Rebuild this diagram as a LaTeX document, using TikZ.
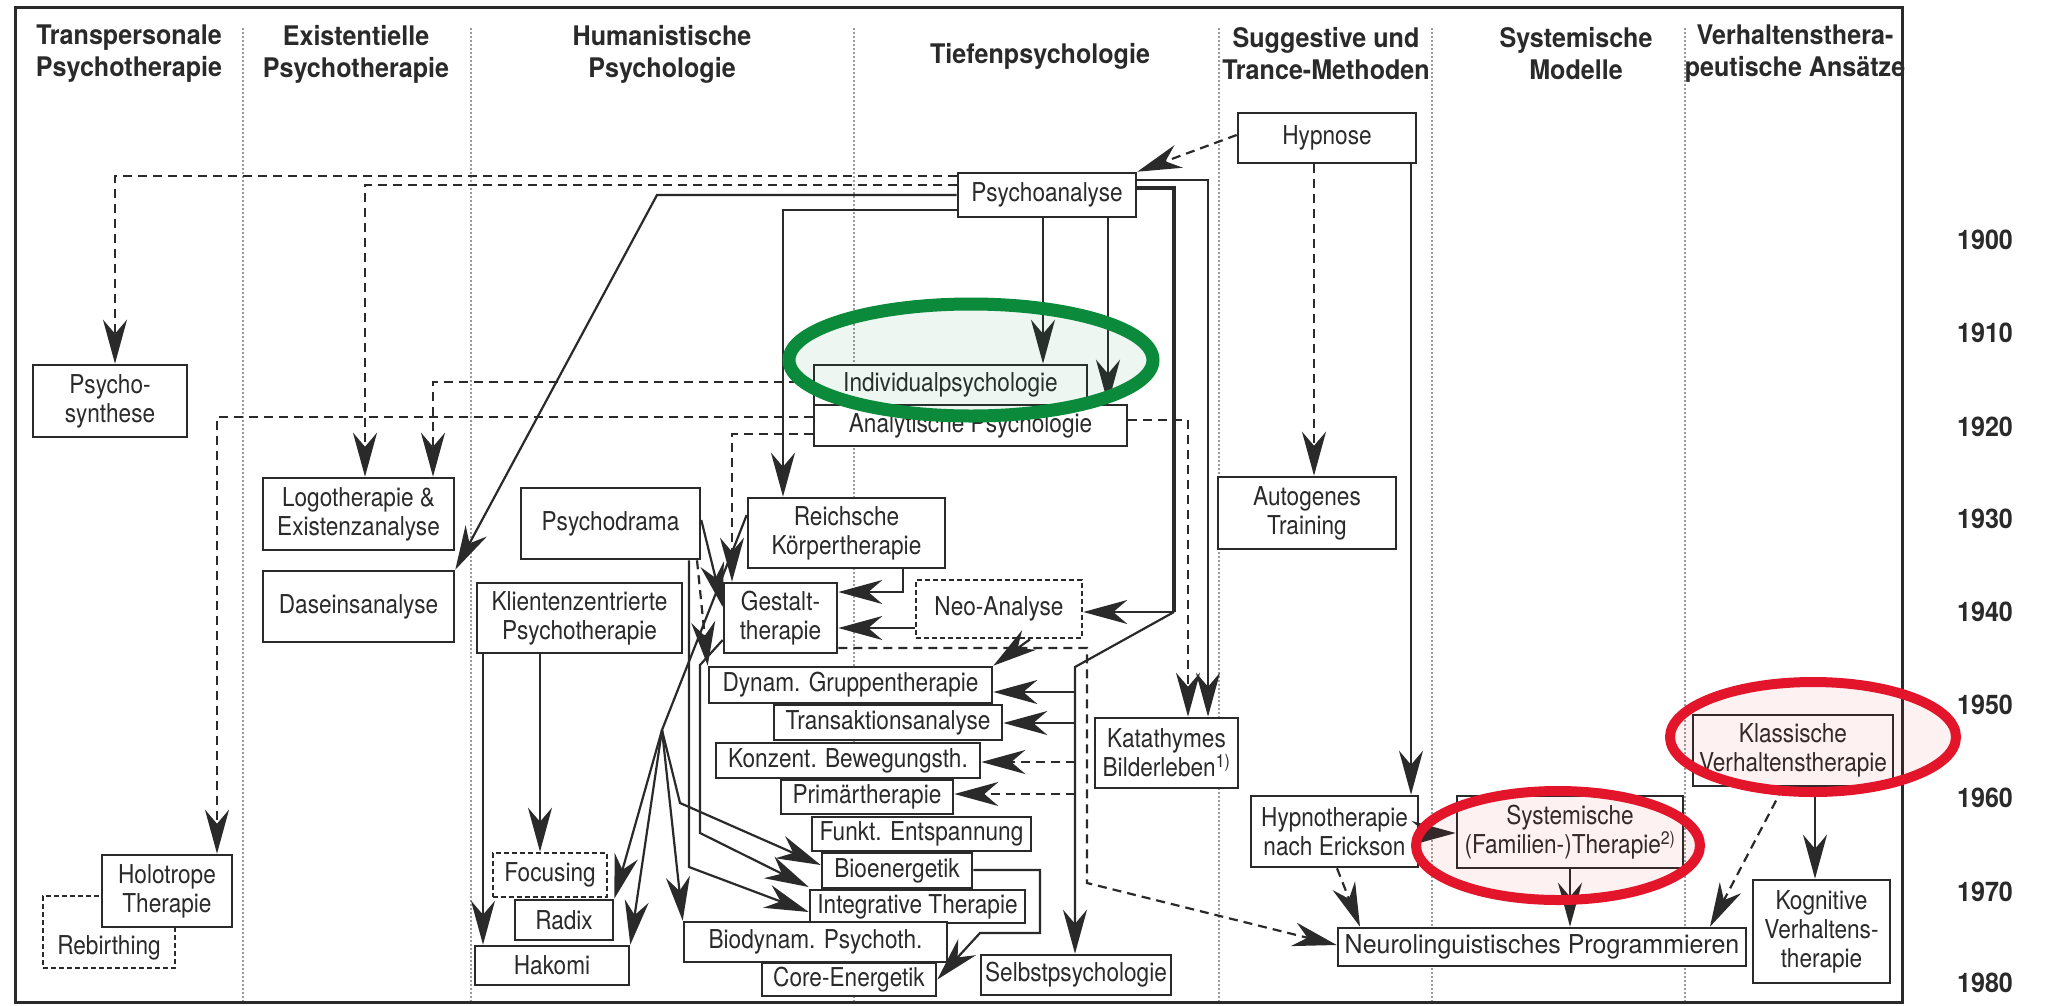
\documentclass[tikz,border=0pt]{standalone}
\usepackage{fontspec}
\setmainfont{TeX Gyre Heros}[FakeStretch=0.87]
\newfontfamily\hdrfont{TeX Gyre Heros}[FakeStretch=0.93]
\newfontfamily\widefont{TeX Gyre Heros}[FakeStretch=0.96]
\usetikzlibrary{arrows.meta,calc}
\definecolor{ink}{HTML}{2A2A2A}
\definecolor{sepc}{HTML}{9A9A9A}
\definecolor{grn}{HTML}{0A8A3A}
\definecolor{redc}{HTML}{E3152B}
\begin{document}
\begin{tikzpicture}[x=1pt,y=-1pt,
  box/.style={draw=ink, line width=2.6pt, fill=white, inner sep=0pt, align=center, text=ink, font=\fontsize{26}{29}\selectfont},
  dbox/.style={box, dash pattern=on 5pt off 3pt},
  wh/.style 2 args={minimum width=#1pt, minimum height=#2pt},
  hdr/.style={align=center, text=ink, inner sep=0pt, font=\hdrfont\bfseries\fontsize{27}{32}\selectfont},
  yr/.style={text=ink, inner sep=0pt, font=\hdrfont\bfseries\fontsize{27}{30}\selectfont},
  con/.style={draw=ink, line width=2.2pt},
  arr/.style={con, -{Stealth[length=44pt,width=24pt,inset=14pt]}},
  dsh/.style={dash pattern=on 9pt off 6pt},
  sep/.style={draw=sepc, line width=1.6pt, dash pattern=on 1.5pt off 2.5pt},
]
\useasboundingbox (0,0) rectangle (2046,1005);
\fill[white] (0,0) rectangle (2046,1005);
% column separators and frame
\foreach \x in {243,471,854,1219,1432,1685} \draw[sep] (\x,28) -- (\x,1002);
\draw[ink, line width=3pt] (15,7) rectangle (1902,1002);
% headers
\node[hdr] (h1) at (129,54) {Transpersonale\\Psychotherapie};
\node[hdr] (h2) at (356,54) {Existentielle\\Psychotherapie};
\node[hdr] (h3) at (662,54) {Humanistische\\Psychologie};
\node[hdr] (h4) at (1040,56) {Tiefenpsychologie};
\node[hdr] (h5) at (1326,54) {Suggestive und\\Trance-Methoden};
\node[hdr] (h6) at (1576,54) {Systemische\\Modelle};
\node[hdr] (h7) at (1795,54) {Verhaltensthera-\\peutische Ansätze};
% years
\foreach \y/\t in {240/1900,333/1910,427/1920,519/1930,612/1940,705/1950,798/1960,892/1970,983/1980}
  \node[yr] (y\t) at (1985,\y) {\t};
% boxes
\node[box,wh={178}{50}] (hyp) at (1327,138) {Hypnose};
\node[box,wh={178}{44}] (psa) at (1047,195) {Psychoanalyse};
\node[box,wh={313}{41}] (ana) at (970.5,425.5) {Analytische Psychologie};
\node[box,wh={273}{40}] (ind) at (950.5,385) {Individualpsychologie};
\node[box,wh={178}{72}] (aut) at (1307,513) {Autogenes\\Training};
\node[box,wh={154}{72}] (psy) at (110,401) {Psycho-\\synthese};
\node[box,wh={191}{72}] (log) at (358.5,514) {Logotherapie \&\\Existenzanalyse};
\node[box,wh={191}{71}] (das) at (358.5,606.5) {Daseinsanalyse};
\node[box,wh={179}{71}] (pdr) at (610.5,523.5) {Psychodrama};
\node[box,wh={197}{70}] (rei) at (846.5,533) {Reichsche\\Körpertherapie};
\node[box,wh={113}{70}] (ges) at (780.5,618) {Gestalt-\\therapie};
\node[box,wh={205}{70}] (kli) at (579.5,618) {Klientenzentrierte\\Psychotherapie};
\node[dbox,wh={166}{58}] (neo) at (999,609) {Neo-Analyse};
\node[box,wh={143}{70}] (kat) at (1166.5,753) {Katathymes\\Bilderleben\textsuperscript{1)}};
\node[box,wh={283}{36}] (dyn) at (850.5,685) {Dynam. Gruppentherapie};
\node[box,wh={228}{35}] (tra) at (888,722.5) {Transaktionsanalyse};
\node[box,wh={264}{35}] (kon) at (848,760.5) {Konzent. Bewegungsth.};
\node[box,wh={172}{34}] (pri) at (867,797) {Primärtherapie};
\node[box,wh={219}{34}] (fun) at (921.5,834) {Funkt. Entspannung};
\node[box,wh={150}{35}] (bio) at (897,870.5) {Bioenergetik};
\node[box,wh={215}{33}] (int) at (917.5,906.5) {Integrative Therapie};
\node[box,wh={263}{40}] (bdy) at (815.5,942) {Biodynam. Psychoth.};
\node[box,wh={174}{33}] (cor) at (849,979.5) {Core-Energetik};
\node[box,wh={190}{40}] (sel) at (1076,975) {Selbstpsychologie};
\node[dbox,wh={114}{44}] (foc) at (550,875) {Focusing};
\node[box,wh={98}{40}] (rad) at (564,920) {Radix};
\node[box,wh={154}{39}] (hak) at (552,965.5) {Hakomi};
\node[dbox,wh={132}{72},text height=52pt,text depth=8pt] (reb) at (109,932) {Rebirthing};
\node[box,wh={130}{72}] (hol) at (167,891) {Holotrope\\Therapie};
\node[box,wh={167}{71}] (hte) at (1334.5,831.5) {Hypnotherapie\\nach Erickson};
\node[box,wh={226}{72}] (sys) at (1570,832) {Systemische\\(Familien-)Therapie\textsuperscript{2)}};
\node[box,wh={200}{71}] (kla) at (1793,750.5) {Klassische\\Verhaltenstherapie};
\node[box,wh={408}{38},font=\widefont\fontsize{26}{29}\selectfont] (nlp) at (1542,947) {Neurolinguistisches Programmieren};
\node[box,wh={137}{103}] (kog) at (1821.5,931.5) {Kognitive\\Verhaltens-\\therapie};
% junctions
\coordinate (j1) at (1174,612);
\coordinate (j2) at (1075,667);
\coordinate (jr) at (662,730);
% connectors
\draw[arr,dsh] (hyp.west |- 0,135) -- (psa.north east);
\draw[arr,dsh] (hyp.south -| 1314,0) -- (aut.north -| 1314,0);
\draw[arr] (hyp.south -| 1411,0) -- (hte.north -| 1411,0);
\draw[arr] (psa.south -| 1043,0) -- (ind.north -| 1043,0);
\draw[arr] (psa.south -| 1108,0) -- (ana.north -| 1108,0);
\draw[arr] (psa.east |- 0,180) -- (1208,180) -- (kat.north -| 1208,0);
\draw[arr,dsh] (ana.east |- 0,420) -- (1188,420) -- (kat.north -| 1188,0);
\draw[con,line width=4pt] (psa.east |- 0,188) -- (1174,188) -- (j1);
\draw[arr] (j1) -- (neo.east |- j1);
\draw[arr] (j1) -- (j2) -- (sel.north -| j2);
\draw[arr] (j2 |- 0,692) -- (dyn.east |- 0,692);
\draw[arr] (j2 |- 0,723) -- (tra.east |- 0,723);
\draw[arr,dsh] (j2 |- 0,762) -- (kon.east |- 0,762);
\draw[arr,dsh] (j2 |- 0,794) -- (pri.east |- 0,794);
\draw[arr,dsh] (psa.west |- 0,176) -- (115,176) -- (psy.north -| 115,0);
\draw[arr,dsh] (psa.west |- 0,185) -- (365,185) -- (log.north -| 365,0);
\draw[arr] (psa.west |- 0,195) -- (657,195) -- (das.north east);
\draw[arr] (psa.west |- 0,210) -- (783,210) -- (rei.north -| 783,0);
\draw[arr,dsh] (ind.west |- 0,382) -- (433,382) -- (log.north -| 433,0);
\draw[arr,dsh] (ana.west |- 0,417) -- (217,417) -- (hol.north -| 217,0);
\draw[arr,dsh] (ana.west |- 0,434) -- (732,434) -- (ges.north -| 732,0);
\draw[arr] (rei.south -| 903,0) -- (903,592) -- (ges.east |- 0,592);
\draw[arr] (neo.west |- 0,628) -- (ges.east |- 0,628);
\draw[arr] (neo.south -| 1030,0) -- (dyn.north east);
\draw[arr] (pdr.east |- 0,520) -- (ges.west |- 0,607);
\draw[arr,dsh] (pdr.south -| 697,0) -- (dyn.north west);
\draw[arr] (pdr.south -| 689,0) -- (689,867) -- (int.west |- 0,912);
\draw[arr] (ges.west |- 0,640) -- (700,665) -- (700,833) -- (int.west |- 0,887);
\draw[con] (rei.west |- 0,515) -- (jr);
\draw[arr] (jr) -- (rad.north east);
\draw[arr] (jr) -- (hak.north east);
\draw[arr] (jr) -- (bdy.north west);
\draw[arr] (jr) -- (680,803) -- (bio.west |- 0,865);
\draw[arr] (bio.east |- 0,870) -- (1040,870) -- (1040,933) -- (980,933) -- (cor.east);
\draw[arr,dsh] (ges.east |- 0,648) -- (1087,648) -- (1087,883) -- (nlp.west |- 0,945);
\draw[arr] (kli.south -| 540,0) -- (foc.north -| 540,0);
\draw[arr] (kli.south -| 483,0) -- (hak.north -| 483,0);
\draw[arr,dsh] (hte.south -| 1337,0) -- (nlp.north -| 1360,0);
\draw[arr] (hte.east |- 0,833) -- (sys.west |- 0,833);
\draw[arr] (sys.south) -- (nlp.north -| sys.south);
\draw[arr,dsh] (kla.south -| 1783,0) -- (nlp.north -| 1710,0);
\draw[arr] (kla.south -| 1815,0) -- (kog.north -| 1815,0);
% highlight ellipses
\draw[grn, line width=13pt, fill=grn, fill opacity=0.07] (971,360) ellipse [x radius=182pt, y radius=56pt];
\draw[redc, line width=10pt, fill=redc, fill opacity=0.06] (1813,737) ellipse [x radius=143pt, y radius=55pt];
\draw[redc, line width=10pt, fill=redc, fill opacity=0.06] (1558,845.5) ellipse [x radius=142pt, y radius=54.5pt];
\end{tikzpicture}
\end{document}
